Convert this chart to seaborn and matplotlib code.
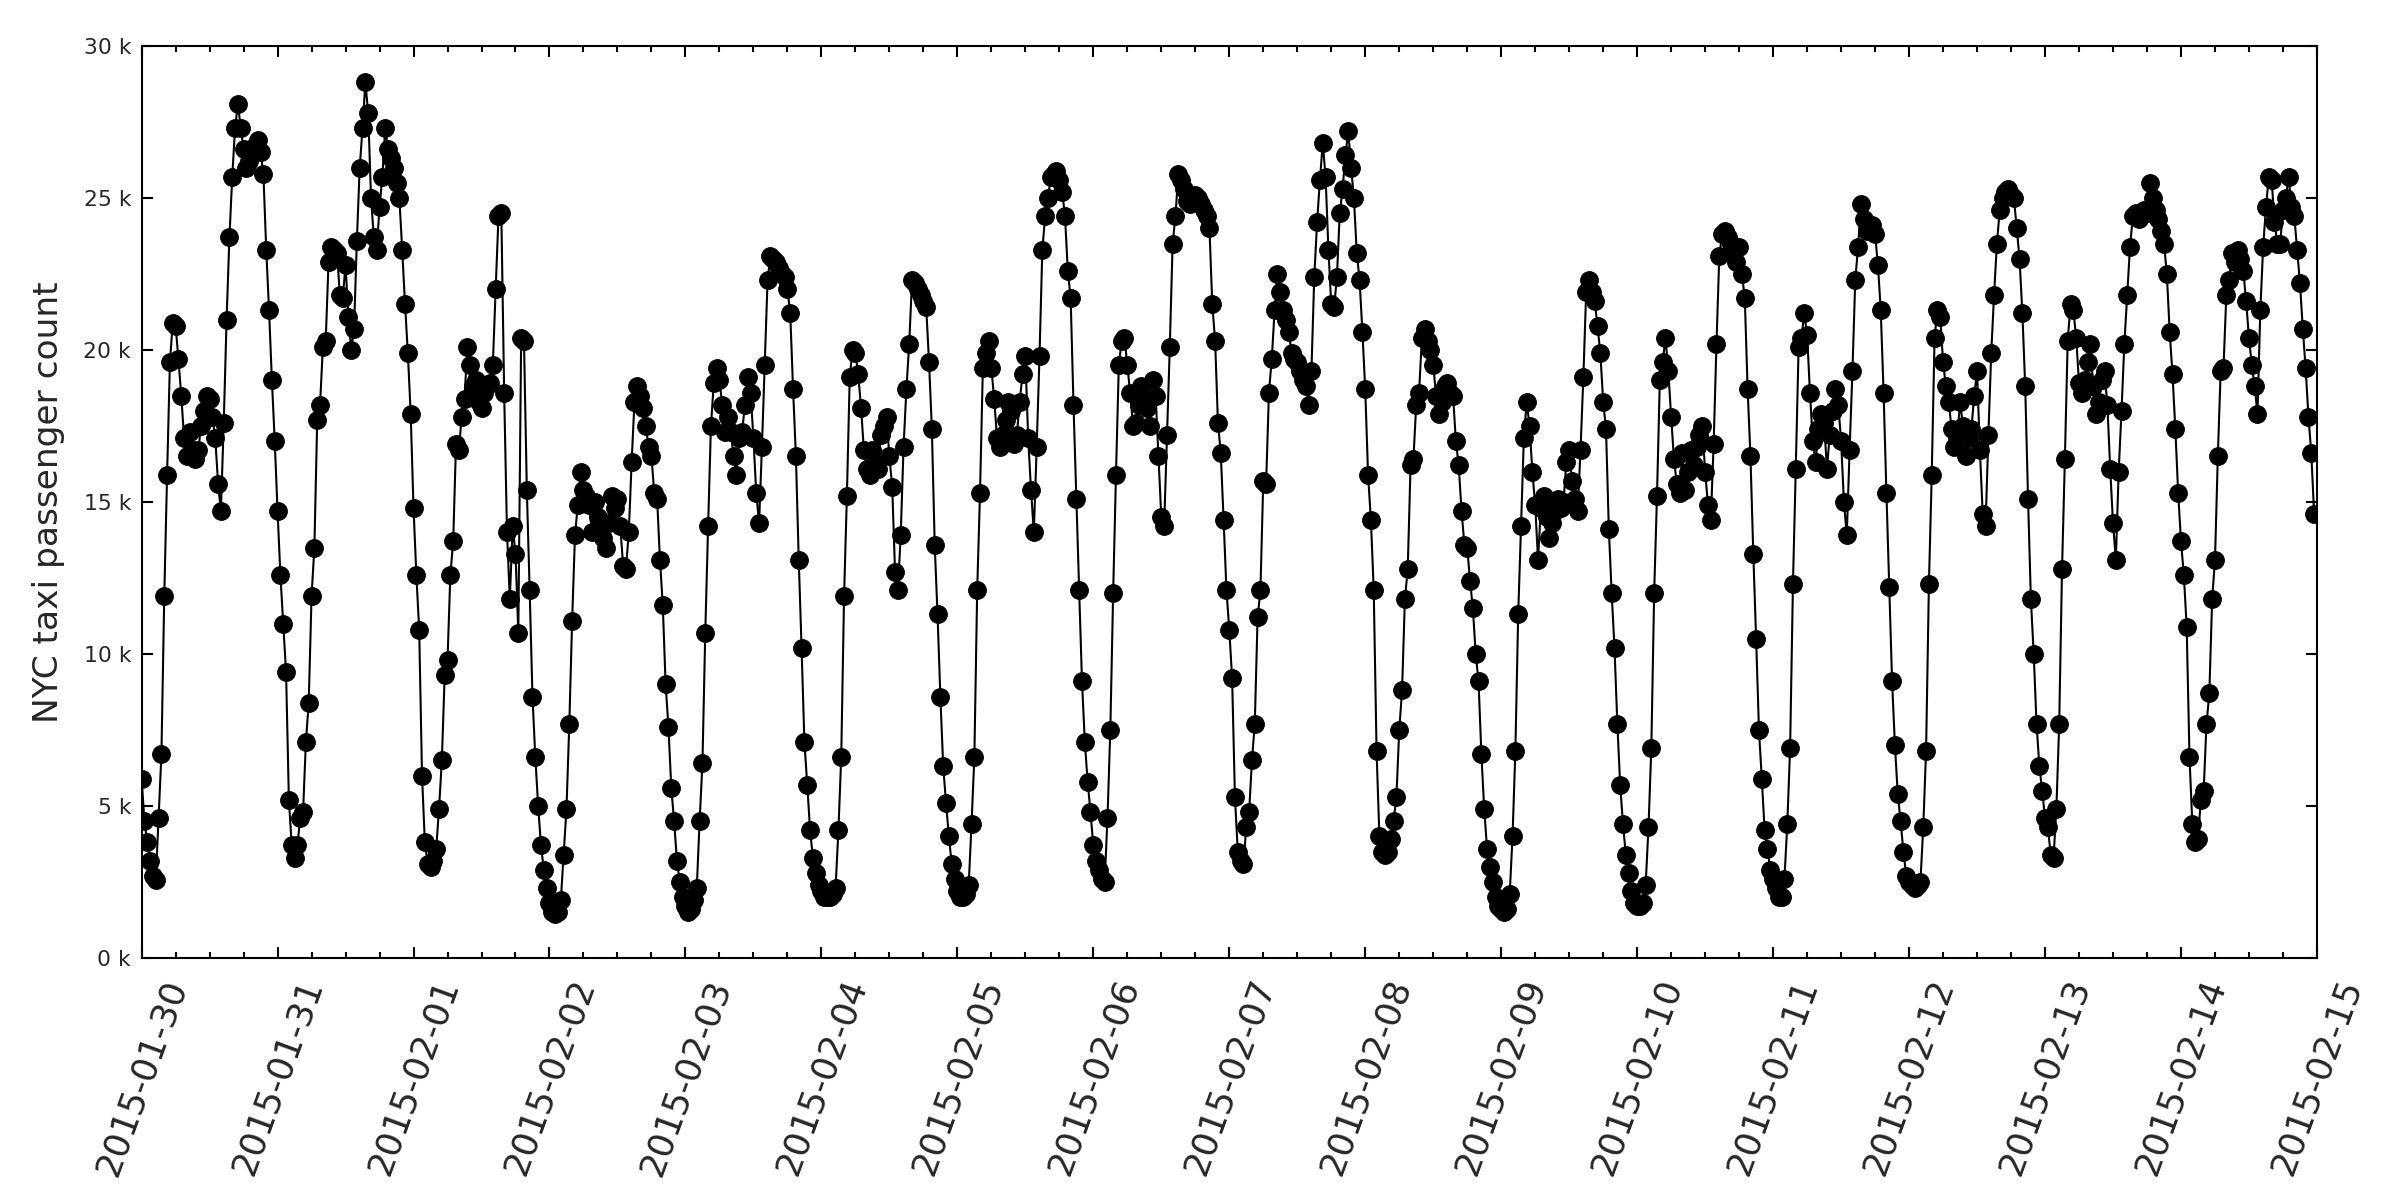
import numpy as np
import pandas as pd
import matplotlib
matplotlib.use('Agg')
import matplotlib.pyplot as plt
import matplotlib.dates as mdates
from matplotlib.ticker import FuncFormatter, MultipleLocator
import seaborn as sns

# half-hourly NYC taxi passenger counts, in thousands, one list per day (00:00 .. 23:30)
jan30 = [5.9, 4.5, 3.8, 3.2, 2.7, 2.55, 4.6, 6.7, 11.9, 15.9,
         19.6, 20.9, 20.8, 19.7, 18.5, 17.1, 16.5, 17.3, 16.7, 16.4,
         16.7, 17.5, 18.0, 18.5, 18.4, 17.8, 17.1, 15.6, 14.7, 17.6,
         21.0, 23.7, 25.7, 27.3, 28.1, 27.3, 26.6, 26.0, 26.2, 26.5,
         26.7, 26.9, 26.5, 25.8, 23.3, 21.3, 19.0, 17.0]
jan31 = [14.7, 12.6, 11.0, 9.4, 5.2, 3.7, 3.3, 3.7, 4.6, 4.8,
         7.1, 8.4, 11.9, 13.5, 17.7, 18.2, 20.1, 20.3, 22.9, 23.4,
         23.3, 23.2, 21.8, 21.7, 22.8, 21.1, 20.0, 20.7, 23.6, 26.0,
         27.3, 28.8, 27.8, 25.0, 23.7, 23.3, 24.7, 25.7, 27.3, 26.6,
         26.3, 26.0, 25.5, 25.0, 23.3, 21.5, 19.9, 17.9]
feb01 = [14.8, 12.6, 10.8, 6.0, 3.8, 3.1, 3.0, 3.2, 3.6, 4.9,
         6.5, 9.3, 9.8, 12.6, 13.7, 16.9, 16.7, 17.8, 18.4, 20.1,
         19.5, 18.8, 19.0, 18.3, 18.1, 18.6, 18.8, 18.9, 19.5, 22.0,
         24.4, 24.5, 18.6, 14.0, 11.8, 14.2, 13.3, 10.7, 20.4, 20.3,
         15.4, 12.1, 8.6, 6.6, 5.0, 3.7, 2.9, 2.3]
feb02 = [1.8, 1.5, 1.45, 1.5, 1.9, 3.4, 4.9, 7.7, 11.1, 13.9,
         14.9, 16.0, 15.4, 15.2, 14.9, 14.0, 15.0, 14.5, 14.2, 13.8,
         13.5, 14.3, 15.2, 14.8, 15.1, 14.2, 12.9, 12.8, 14.0, 16.3,
         18.3, 18.8, 18.5, 18.1, 17.5, 16.8, 16.5, 15.3, 15.1, 13.1,
         11.6, 9.0, 7.6, 5.6, 4.5, 3.2, 2.5, 2.0]
feb03 = [1.7, 1.5, 1.6, 1.9, 2.3, 4.5, 6.4, 10.7, 14.2, 17.5,
         18.9, 19.4, 19.0, 18.2, 17.3, 17.8, 17.3, 16.5, 15.9, 17.1,
         17.3, 18.2, 19.1, 18.6, 17.1, 15.3, 14.3, 16.8, 19.5, 22.3,
         23.1, 23.0, 22.9, 22.7, 22.5, 22.4, 22.0, 21.2, 18.7, 16.5,
         13.1, 10.2, 7.1, 5.7, 4.2, 3.3, 2.8, 2.4]
feb04 = [2.2, 2.0, 2.0, 2.0, 2.1, 2.3, 4.2, 6.6, 11.9, 15.2,
         19.1, 20.0, 19.9, 19.2, 18.1, 16.7, 16.1, 15.9, 16.7, 16.5,
         16.1, 17.2, 17.5, 17.8, 16.5, 15.5, 12.7, 12.1, 13.9, 16.8,
         18.7, 20.2, 22.3, 22.2, 22.0, 21.8, 21.6, 21.4, 19.6, 17.4,
         13.6, 11.3, 8.6, 6.3, 5.1, 4.0, 3.1, 2.6]
feb05 = [2.2, 2.0, 2.0, 2.1, 2.4, 4.4, 6.6, 12.1, 15.3, 19.4,
         19.9, 20.3, 19.4, 18.4, 17.1, 16.8, 17.2, 17.7, 18.3, 18.0,
         16.9, 17.2, 18.3, 19.2, 19.8, 17.1, 15.4, 14.0, 16.8, 19.8,
         23.3, 24.4, 25.0, 25.7, 25.8, 25.9, 25.6, 25.2, 24.4, 22.6,
         21.7, 18.2, 15.1, 12.1, 9.1, 7.1, 5.8, 4.8]
feb06 = [3.7, 3.2, 2.9, 2.6, 2.5, 4.6, 7.5, 12.0, 15.9, 19.5,
         20.3, 20.4, 19.5, 18.6, 17.5, 17.6, 18.2, 18.8, 18.4, 18.1,
         17.5, 19.0, 18.5, 16.5, 14.5, 14.2, 17.2, 20.1, 23.5, 24.4,
         25.8, 25.6, 25.3, 24.9, 24.8, 24.9, 25.1, 25.0, 24.8, 24.6,
         24.4, 24.0, 21.5, 20.3, 17.6, 16.6, 14.4, 12.1]
feb07 = [10.8, 9.2, 5.3, 3.5, 3.2, 3.1, 4.3, 4.8, 6.5, 7.7,
         11.2, 12.1, 15.7, 15.6, 18.6, 19.7, 21.3, 22.5, 21.9, 21.3,
         21.0, 20.6, 19.9, 19.7, 19.6, 19.3, 19.0, 18.8, 18.2, 19.3,
         22.4, 24.2, 25.6, 26.8, 25.7, 23.3, 21.5, 21.4, 22.4, 24.5,
         25.3, 26.4, 27.2, 26.0, 25.0, 23.2, 22.3, 20.6]
feb08 = [18.7, 15.9, 14.4, 12.1, 6.8, 4.0, 3.5, 3.4, 3.5, 3.9,
         4.5, 5.3, 7.5, 8.8, 11.8, 12.8, 16.2, 16.4, 18.2, 18.6,
         20.4, 20.7, 20.3, 20.0, 19.5, 18.5, 17.9, 18.3, 18.8, 18.9,
         18.6, 18.5, 17.0, 16.2, 14.7, 13.6, 13.5, 12.4, 11.5, 10.0,
         9.1, 6.7, 4.9, 3.6, 3.0, 2.5, 2.0, 1.7]
feb09 = [1.6, 1.5, 1.6, 2.1, 4.0, 6.8, 11.3, 14.2, 17.1, 18.3,
         17.5, 16.0, 14.9, 13.1, 14.8, 15.2, 14.5, 13.8, 14.3, 14.7,
         15.1, 14.8, 15.0, 16.3, 16.7, 15.7, 15.1, 14.7, 16.7, 19.1,
         21.9, 22.3, 21.9, 21.6, 20.8, 19.9, 18.3, 17.4, 14.1, 12.0,
         10.2, 7.7, 5.7, 4.4, 3.4, 2.8, 2.2, 1.8]
feb10 = [1.7, 1.7, 1.8, 2.4, 4.3, 6.9, 12.0, 15.2, 19.0, 19.6,
         20.4, 19.3, 17.8, 16.4, 15.6, 15.3, 16.6, 15.4, 16.0, 16.7,
         16.2, 16.8, 17.2, 17.5, 16.0, 14.9, 14.4, 16.9, 20.2, 23.1,
         23.8, 23.9, 23.7, 23.5, 23.3, 22.9, 23.4, 22.5, 21.7, 18.7,
         16.5, 13.3, 10.5, 7.5, 5.9, 4.2, 3.6, 2.9]
feb11 = [2.6, 2.3, 2.0, 2.0, 2.6, 4.4, 6.9, 12.3, 16.1, 20.1,
         20.4, 21.2, 20.5, 18.6, 17.0, 16.3, 17.4, 17.9, 17.6, 16.1,
         17.2, 18.0, 18.7, 18.2, 17.0, 15.0, 13.9, 16.7, 19.3, 22.3,
         23.4, 24.8, 24.3, 23.9, 24.0, 24.1, 23.8, 22.8, 21.3, 18.6,
         15.3, 12.2, 9.1, 7.0, 5.4, 4.5, 3.5, 2.7]
feb12 = [2.5, 2.4, 2.3, 2.4, 2.5, 4.3, 6.8, 12.3, 15.9, 20.4,
         21.3, 21.1, 19.6, 18.8, 18.3, 17.4, 16.8, 17.1, 18.3, 17.5,
         16.5, 17.1, 17.4, 18.5, 19.3, 16.7, 14.6, 14.2, 17.2, 19.9,
         21.8, 23.5, 24.6, 25.0, 25.2, 25.3, 25.1, 25.0, 24.0, 23.0,
         21.2, 18.8, 15.1, 11.8, 10.0, 7.7, 6.3, 5.5]
feb13 = [4.6, 4.3, 3.4, 3.3, 4.9, 7.7, 12.8, 16.4, 20.3, 21.5,
         21.3, 20.4, 18.9, 18.6, 19.0, 19.6, 20.2, 18.8, 17.9, 18.3,
         19.0, 19.3, 18.2, 16.1, 14.3, 13.1, 16.0, 18.0, 20.2, 21.8,
         23.4, 24.4, 24.5, 24.3, 24.4, 24.6, 24.5, 25.5, 25.0, 24.6,
         24.3, 23.9, 23.5, 22.5, 20.6, 19.2, 17.4, 15.3]
feb14 = [13.7, 12.6, 10.9, 6.6, 4.4, 3.8, 3.9, 5.2, 5.5, 7.7,
         8.7, 11.8, 13.1, 16.5, 19.3, 19.4, 21.8, 22.3, 23.2, 22.9,
         23.3, 23.0, 22.6, 21.6, 20.4, 19.5, 18.8, 17.9, 21.3, 23.4,
         24.7, 25.7, 25.6, 24.2, 23.5, 23.5, 24.6, 25.0, 25.7, 24.7,
         24.4, 23.3, 22.2, 20.7, 19.4, 17.8, 16.6, 14.6]

days = [jan30, jan31, feb01, feb02, feb03, feb04, feb05, feb06,
        feb07, feb08, feb09, feb10, feb11, feb12, feb13, feb14]
counts = np.concatenate(days) * 1000
stamps = pd.date_range('2015-01-30 00:00', periods=len(counts), freq='30min')
df = pd.DataFrame({'timestamp': stamps, 'value': counts})

sns.set_style('ticks', {'xtick.direction': 'in', 'ytick.direction': 'in'})

fig = plt.figure(figsize=(16, 8), dpi=150)
ax = fig.add_axes([0.059, 0.2017, 0.9064, 0.76])
sns.lineplot(data=df, x='timestamp', y='value', color='black', marker='o',
             markersize=8.5, markeredgecolor='black', markeredgewidth=0.5,
             linewidth=1, ax=ax)

ax.set_xlim(pd.Timestamp('2015-01-30'), pd.Timestamp('2015-02-15'))
ax.set_ylim(0, 30000)
ax.yaxis.set_major_locator(MultipleLocator(5000))
ax.yaxis.set_major_formatter(FuncFormatter(lambda v, p: f'{v/1000:.0f} k'))
ax.xaxis.set_major_locator(mdates.DayLocator())
ax.xaxis.set_minor_locator(mdates.HourLocator(byhour=[6, 12, 18]))
ax.xaxis.set_major_formatter(mdates.DateFormatter('%Y-%m-%d'))

ax.tick_params(which='both', top=True, right=True, direction='in', color='black')
ax.tick_params(which='major', length=5.5, width=1)
ax.tick_params(which='minor', length=3, width=1)
ax.tick_params(axis='x', labelsize=17, pad=8, labelrotation=70)
ax.tick_params(axis='y', labelsize=10.5, pad=5)
ax.set_xlabel('')
ax.set_ylabel('NYC taxi passenger count', fontsize=16.5, labelpad=9)
for s in ax.spines.values():
    s.set_linewidth(1)
    s.set_color('black')

fig.savefig('out.png', dpi=150, facecolor='white')
